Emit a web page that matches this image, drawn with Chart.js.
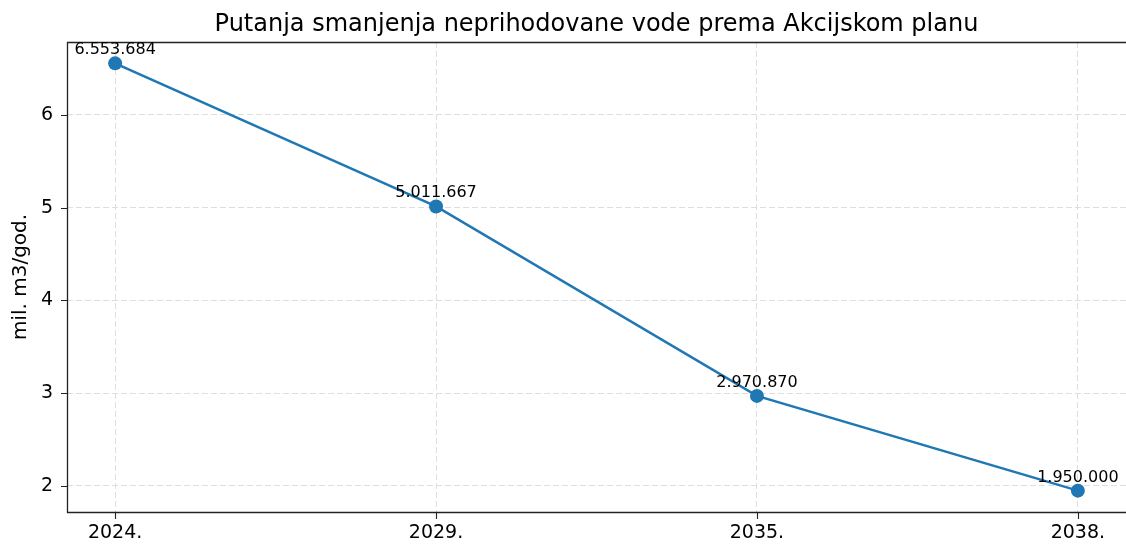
<!DOCTYPE html>
<html>
<head>
<meta charset="utf-8">
<script src="https://cdn.jsdelivr.net/npm/chart.js@4/dist/chart.umd.min.js"></script>
<style>
  body { margin: 0; background: #fff; }
  canvas { display: block; }
</style>
</head>
<body>
<canvas id="myChart" width="1126" height="546"></canvas>
<script>
(() => {
  'use strict'

  const years = ['2024.', '2029.', '2035.', '2038.']
  const volumes = [6553684, 5011667, 2970870, 1950000] // m3/god.
  const yTicks = [2, 3, 4, 5, 6]

  const title = 'Putanja smanjenja neprihodovane vode prema Akcijskom planu'
  const yLabel = 'mil. m3/god.'
  const font = '"DejaVu Sans", sans-serif'
  const blue = '#1f77b4'

  const mil = volumes.map(v => v / 1e6)
  const fmt = v => String(v).replace(/\B(?=(\d{3})+(?!\d))/g, '.')

  // matplotlib style 5% margins
  const lo = Math.min(...mil)
  const hi = Math.max(...mil)
  const pad = (hi - lo) * 0.05

  const extras = {
    id: 'extras',
    afterDraw(chart) {
      const { ctx, chartArea: a, scales } = chart
      ctx.save()
      // spines
      ctx.strokeStyle = '#222'
      ctx.lineWidth = 1.3
      ctx.beginPath()
      ctx.moveTo(a.left, a.top + 0.5)
      ctx.lineTo(1126, a.top + 0.5)
      ctx.moveTo(a.left + 0.5, a.top)
      ctx.lineTo(a.left + 0.5, a.bottom + 0.5)
      ctx.lineTo(1126, a.bottom + 0.5)
      ctx.stroke()
      // tick marks
      ctx.lineWidth = 1.1
      ctx.beginPath()
      yTicks.forEach(t => {
        const y = Math.round(scales.y.getPixelForValue(t)) + 0.5
        ctx.moveTo(a.left - 6, y)
        ctx.lineTo(a.left, y)
      })
      years.forEach((_, i) => {
        const x = Math.round(scales.x.getPixelForValue(i)) + 0.5
        ctx.moveTo(x, a.bottom)
        ctx.lineTo(x, a.bottom + 7)
      })
      ctx.stroke()
      // title
      ctx.fillStyle = '#000'
      ctx.font = '24px ' + font
      ctx.textAlign = 'center'
      ctx.textBaseline = 'alphabetic'
      ctx.fillText(title, (a.left + a.right) / 2, 31)
      // y label
      ctx.font = '20px ' + font
      ctx.textBaseline = 'middle'
      ctx.translate(21, (a.top + a.bottom) / 2)
      ctx.rotate(-Math.PI / 2)
      ctx.fillText(yLabel, 0, 0)
      ctx.restore()
      // value labels
      ctx.save()
      ctx.font = '16px ' + font
      ctx.fillStyle = '#000'
      ctx.textAlign = 'center'
      ctx.textBaseline = 'alphabetic'
      mil.forEach((v, i) => {
        const x = scales.x.getPixelForValue(i)
        const y = scales.y.getPixelForValue(v)
        ctx.fillText(fmt(volumes[i]), x, y - 9)
      })
      ctx.restore()
    }
  }

  const ctx = document.getElementById('myChart')
  new Chart(ctx, {
    type: 'line',
    data: {
      datasets: [{
        data: mil.map((v, i) => ({ x: i, y: v })),
        borderColor: blue,
        backgroundColor: blue,
        borderWidth: 2.5,
        pointRadius: 7,
        pointHoverRadius: 7,
        pointBackgroundColor: blue,
        pointBorderWidth: 0,
        tension: 0,
        clip: false
      }]
    },
    options: {
      responsive: false,
      animation: false,
      events: [],
      layout: { autoPadding: false, padding: { top: 42, right: 0, left: 0, bottom: 0 } },
      plugins: {
        legend: { display: false },
        title: { display: false },
        tooltip: { enabled: false }
      },
      scales: {
        x: {
          type: 'linear',
          min: -0.15,
          max: 3.15,
          afterBuildTicks: s => { s.ticks = years.map((_, i) => ({ value: i })) },
          afterFit: s => { s.height = 34; s.paddingLeft = 0; s.paddingRight = 0 },
          ticks: {
            callback: v => years[v],
            color: '#000',
            font: { family: font, size: 19 },
            padding: 10,
            maxRotation: 0
          },
          grid: { color: '#dedede', lineWidth: 1, drawTicks: false },
          border: { display: false, dash: [6, 3] }
        },
        y: {
          min: lo - pad,
          max: hi + pad,
          afterBuildTicks: s => { s.ticks = yTicks.map(v => ({ value: v })) },
          afterFit: s => { s.width = 67; s.paddingTop = 0; s.paddingBottom = 0 },
          ticks: {
            color: '#000',
            font: { family: font, size: 19 },
            padding: 14
          },
          grid: { color: '#dedede', lineWidth: 1, drawTicks: false },
          border: { display: false, dash: [6, 3] }
        }
      }
    },
    plugins: [extras]
  })
})()
</script>
</body>
</html>
